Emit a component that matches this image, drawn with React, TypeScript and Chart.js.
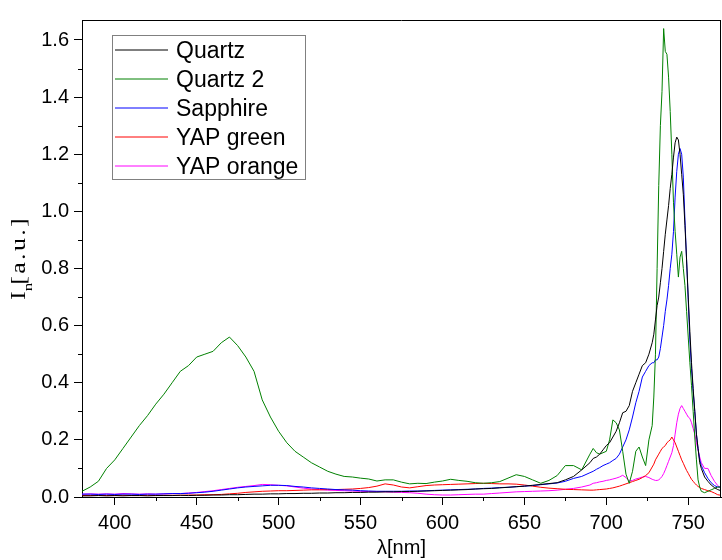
import React, { useEffect, useRef } from 'react';
import { Chart, registerables } from 'chart.js';

Chart.register(...registerables);

const WAVELENGTHS = [
  380, 385, 390, 395, 400, 405, 410, 415, 420, 425,
  430, 435, 440, 445, 450, 455, 460, 465, 470, 475,
  480, 485, 490, 495, 500, 505, 510, 515, 520, 525,
  530, 535, 540, 545, 550, 555, 560, 565, 570, 575,
  580, 585, 590, 595, 600, 605, 610, 615, 620, 625,
  630, 635, 640, 645, 650, 655, 660, 665, 670, 675,
  680, 685, 690,
  692, 694, 696, 698, 700, 702, 704, 706, 708, 710,
  712, 714, 716, 718, 720, 722, 724, 726, 728,
  729, 730, 731, 732, 733, 734, 735, 736, 737, 738,
  739, 740, 741, 742, 743, 744, 745, 746, 747, 748,
  749, 750, 751, 752, 753, 754, 755, 756, 757, 758,
  760, 762, 764, 766, 768, 770,
];

const QUARTZ = [
  0.004, 0.004, 0.005, 0.004, 0.005, 0.004, 0.005, 0.005, 0.004, 0.005,
  0.005, 0.005, 0.006, 0.005, 0.006, 0.006, 0.007, 0.007, 0.008, 0.008,
  0.009, 0.01, 0.01, 0.011, 0.011, 0.012, 0.012, 0.013, 0.013, 0.014,
  0.014, 0.015, 0.015, 0.016, 0.016, 0.017, 0.017, 0.018, 0.018, 0.019,
  0.019, 0.02, 0.021, 0.022, 0.023, 0.024, 0.025, 0.026, 0.028, 0.029,
  0.03, 0.032, 0.034, 0.036, 0.038, 0.041, 0.044, 0.047, 0.05, 0.06,
  0.072, 0.095, 0.12,
  0.135, 0.14, 0.15, 0.165, 0.18, 0.19, 0.21, 0.23, 0.26, 0.295,
  0.3, 0.32, 0.37, 0.4, 0.43, 0.46, 0.47, 0.5, 0.54,
  0.57, 0.62, 0.67, 0.7, 0.75, 0.8, 0.86, 0.92, 0.97, 1.02,
  1.08, 1.13, 1.19, 1.24, 1.26, 1.25, 1.2, 1.13, 1.06, 0.95,
  0.83, 0.7, 0.58, 0.47, 0.38, 0.3, 0.22, 0.17, 0.12, 0.1,
  0.07, 0.055, 0.042, 0.033, 0.026, 0.022,
];

const QUARTZ_2 = [
  0.02, 0.035, 0.055, 0.1, 0.13, 0.17, 0.21, 0.25, 0.285, 0.325,
  0.36, 0.4, 0.44, 0.46, 0.49, 0.5, 0.51, 0.54, 0.56, 0.53,
  0.49, 0.44, 0.34, 0.28, 0.23, 0.19, 0.16, 0.14, 0.12, 0.105,
  0.09, 0.08, 0.072, 0.07, 0.066, 0.063, 0.056, 0.06, 0.06, 0.052,
  0.046, 0.048, 0.047, 0.052, 0.056, 0.062, 0.058, 0.055, 0.05, 0.048,
  0.05, 0.054, 0.066, 0.078, 0.072, 0.06, 0.048, 0.058, 0.075, 0.11,
  0.11, 0.095, 0.15,
  0.17, 0.155, 0.15, 0.155, 0.16, 0.2, 0.27, 0.26, 0.235, 0.16,
  0.08, 0.048, 0.09, 0.16, 0.175, 0.14, 0.11, 0.2, 0.25,
  0.35, 0.5, 0.8, 1.09, 1.3, 1.42, 1.64, 1.56, 1.55, 1.47,
  1.35, 1.2, 1.03, 0.93, 0.85, 0.77, 0.84, 0.86, 0.8, 0.74,
  0.65, 0.56, 0.47, 0.39, 0.3, 0.21, 0.13, 0.06, 0.035, 0.02,
  0.015, 0.02, 0.025, 0.03, 0.035, 0.035,
];

const SAPPHIRE = [
  0.01, 0.01, 0.009, 0.01, 0.009, 0.01, 0.01, 0.009, 0.01, 0.01,
  0.011, 0.012, 0.012, 0.013, 0.015, 0.017, 0.02, 0.024, 0.028, 0.032,
  0.035, 0.037, 0.039, 0.041, 0.041, 0.04, 0.037, 0.035, 0.032, 0.03,
  0.028, 0.026, 0.025, 0.024, 0.022, 0.021, 0.02, 0.02, 0.02, 0.02,
  0.021, 0.021, 0.022, 0.023, 0.024, 0.025, 0.026, 0.027, 0.028, 0.03,
  0.031, 0.033, 0.034, 0.036, 0.038, 0.04, 0.043, 0.046, 0.049, 0.055,
  0.065, 0.072, 0.085,
  0.09, 0.097, 0.103, 0.11, 0.115, 0.12, 0.128, 0.135, 0.15, 0.175,
  0.2, 0.235, 0.28, 0.33, 0.37, 0.42, 0.44, 0.46, 0.47,
  0.47, 0.48, 0.48, 0.49, 0.52, 0.56, 0.6, 0.65, 0.69, 0.74,
  0.8, 0.85, 0.93, 1.05, 1.14, 1.2, 1.22, 1.2, 1.12, 0.97,
  0.83, 0.69, 0.55, 0.45, 0.37, 0.3, 0.22, 0.17, 0.13, 0.11,
  0.085, 0.065, 0.05, 0.04, 0.035, 0.035,
];

const YAP_GREEN = [
  0.005, 0.005, 0.006, 0.005, 0.005, 0.006, 0.005, 0.005, 0.006, 0.005,
  0.006, 0.006, 0.006, 0.007, 0.007, 0.008, 0.008, 0.009, 0.011, 0.013,
  0.016, 0.018, 0.02, 0.021, 0.022, 0.022, 0.023, 0.024, 0.025, 0.025,
  0.026, 0.026, 0.027, 0.028, 0.03, 0.033, 0.038, 0.046, 0.042, 0.035,
  0.032, 0.036, 0.04, 0.042, 0.043, 0.044, 0.045, 0.046, 0.047, 0.048,
  0.047, 0.046, 0.046, 0.045, 0.042, 0.038, 0.034, 0.031, 0.029, 0.027,
  0.026, 0.025, 0.024,
  0.024, 0.025, 0.026, 0.027, 0.028, 0.03, 0.032, 0.035, 0.038, 0.042,
  0.046, 0.05, 0.054, 0.058, 0.062, 0.068, 0.075, 0.085, 0.105,
  0.115, 0.13, 0.14, 0.15, 0.16, 0.17, 0.175, 0.18, 0.19, 0.195,
  0.2, 0.21, 0.2, 0.19, 0.175, 0.16, 0.145, 0.13, 0.118, 0.105,
  0.093, 0.083, 0.072, 0.062, 0.055, 0.048, 0.042, 0.037, 0.033, 0.03,
  0.026, 0.022, 0.019, 0.014, 0.008, 0.006,
];

const YAP_ORANGE = [
  0.01, 0.011, 0.01, 0.011, 0.01, 0.012, 0.011, 0.01, 0.011, 0.01,
  0.011, 0.012, 0.012, 0.014, 0.016, 0.019, 0.022, 0.026, 0.03, 0.034,
  0.037, 0.04, 0.044, 0.043, 0.041, 0.039, 0.035, 0.031, 0.028, 0.026,
  0.024, 0.023, 0.022, 0.021, 0.02, 0.019, 0.019, 0.018, 0.017, 0.016,
  0.015, 0.013, 0.01, 0.008, 0.007, 0.007, 0.008, 0.009, 0.01, 0.01,
  0.012, 0.014, 0.016, 0.018, 0.019, 0.02, 0.021, 0.022, 0.024, 0.027,
  0.03, 0.035, 0.042,
  0.048, 0.05, 0.053, 0.055, 0.058, 0.06, 0.063, 0.066, 0.07, 0.076,
  0.068, 0.056, 0.058, 0.063, 0.066, 0.07, 0.072, 0.068, 0.062,
  0.06, 0.058, 0.058, 0.06, 0.065, 0.072, 0.082, 0.095, 0.11, 0.125,
  0.14, 0.155, 0.18, 0.22, 0.26, 0.29, 0.31, 0.32, 0.31, 0.3,
  0.29, 0.28, 0.275, 0.26, 0.24, 0.22, 0.19, 0.165, 0.14, 0.12,
  0.1, 0.1, 0.075, 0.055, 0.04, 0.03,
];

const SERIES_NAMES = ['Quartz', 'Quartz 2', 'Sapphire', 'YAP green', 'YAP orange'];
const SERIES_VALUES = [QUARTZ, QUARTZ_2, SAPPHIRE, YAP_GREEN, YAP_ORANGE];
const SERIES_COLORS = ['#000000', '#008000', '#0000ff', '#ff0000', '#ff00ff'];

const X_TICKS = [400, 450, 500, 550, 600, 650, 700, 750];
const X_MINOR = [425, 475, 525, 575, 625, 675, 725];
const Y_TICKS = [0, 0.2, 0.4, 0.6, 0.8, 1.0, 1.2, 1.4, 1.6];
const Y_MINOR = [0.1, 0.3, 0.5, 0.7, 0.9, 1.1, 1.3, 1.5];

const SANS = '"Liberation Sans", Arial, sans-serif';
const SERIF = '"Liberation Serif", "Times New Roman", serif';

function spacedText(ctx: CanvasRenderingContext2D, text: string, x: number, y: number, gap: number) {
  let cx = x;
  for (const ch of text) {
    ctx.fillText(ch, cx, y);
    cx += ctx.measureText(ch).width + gap;
  }
  return cx;
}

const decorPlugin = {
  id: 'decor',
  afterDraw(chart: any) {
    const { ctx, chartArea: a, scales } = chart;
    const xs = scales.x;
    const ys = scales.y;
    ctx.save();
    ctx.strokeStyle = '#000';
    ctx.lineWidth = 1;
    ctx.beginPath();
    ctx.moveTo(a.left, Math.round(a.top) + 0.5);
    ctx.lineTo(a.right, Math.round(a.top) + 0.5);
    ctx.moveTo(Math.round(a.right) - 0.5, a.top);
    ctx.lineTo(Math.round(a.right) - 0.5, a.bottom);
    for (const v of Y_MINOR) {
      const y = Math.round(ys.getPixelForValue(v)) + 0.5;
      ctx.moveTo(a.left - 4, y);
      ctx.lineTo(a.left, y);
    }
    for (const v of X_MINOR) {
      const x = Math.round(xs.getPixelForValue(v)) + 0.5;
      ctx.moveTo(x, a.bottom);
      ctx.lineTo(x, a.bottom + 4);
    }
    ctx.stroke();

    // legend
    const bx = 112, by = 35, bw = 194, bh = 145;
    ctx.fillStyle = '#fff';
    ctx.fillRect(bx, by, bw, bh);
    ctx.strokeStyle = '#808080';
    ctx.strokeRect(bx + 0.5, by + 0.5, bw - 1, bh - 1);
    ctx.font = `23px ${SANS}`;
    ctx.textBaseline = 'alphabetic';
    ctx.textAlign = 'left';
    SERIES_NAMES.forEach((name, i) => {
      const ry = 50 + i * 29;
      ctx.strokeStyle = SERIES_COLORS[i];
      ctx.beginPath();
      ctx.moveTo(115, ry);
      ctx.lineTo(168, ry);
      ctx.stroke();
      ctx.fillStyle = '#000';
      ctx.fillText(name, 176, ry + 8);
    });

    // y-axis title: I_n[a.u.]
    ctx.translate(25, 256);
    ctx.rotate(-Math.PI / 2);
    ctx.scale(1.3, 1);
    ctx.fillStyle = '#000';
    ctx.font = `20px ${SERIF}`;
    const start = -44 / 1.3;
    ctx.fillText('I', start, 0);
    const wI = ctx.measureText('I').width;
    ctx.font = `13px ${SERIF}`;
    ctx.fillText('n', start + wI, 7);
    ctx.font = `20px ${SERIF}`;
    spacedText(ctx, '[a.u.]', start + wI + 5, 0, 1.8);
    ctx.restore();
  },
};

export default function App() {
  const ref = useRef<HTMLCanvasElement>(null);

  useEffect(() => {
    const canvas = ref.current;
    if (!canvas) return;
    const datasets = SERIES_NAMES.map((name, s) => ({
      label: name,
      data: WAVELENGTHS.map((x, i) => ({ x, y: SERIES_VALUES[s][i] })),
      borderColor: SERIES_COLORS[s],
      backgroundColor: SERIES_COLORS[s],
      borderWidth: 1,
      pointRadius: 0,
      tension: 0,
      fill: false,
    }));
    const chart = new Chart(canvas, {
      type: 'line',
      data: { datasets },
      options: {
        animation: false,
        responsive: false,
        devicePixelRatio: 1,
        layout: { padding: { top: 20, right: 1, left: 0, bottom: 0 } },
        plugins: { legend: { display: false }, tooltip: { enabled: false } },
        scales: {
          x: {
            type: 'linear',
            min: 380,
            max: 770,
            afterBuildTicks: (axis: any) => {
              axis.ticks = X_TICKS.map((v) => ({ value: v }));
            },
            afterFit: (axis: any) => {
              axis.height = 63;
            },
            ticks: {
              autoSkip: false,
              maxRotation: 0,
              padding: 6,
              color: '#000',
              font: { family: SANS, size: 20 },
              callback: (v: any) => String(v),
            },
            grid: { drawOnChartArea: false, drawTicks: true, tickLength: 8, color: '#000' },
            border: { display: true, color: '#000', width: 1 },
            title: {
              display: true,
              text: 'λ[nm]',
              color: '#000',
              font: { family: SANS, size: 20 },
              padding: { top: 0, bottom: 0 },
            },
          },
          y: {
            type: 'linear',
            min: 0,
            max: 1.67,
            afterBuildTicks: (axis: any) => {
              axis.ticks = Y_TICKS.map((v) => ({ value: v }));
            },
            afterFit: (axis: any) => {
              axis.width = 82;
            },
            ticks: {
              autoSkip: false,
              padding: 5,
              color: '#000',
              font: { family: SANS, size: 20 },
              callback: (v: any) => Number(v).toFixed(1),
            },
            grid: { drawOnChartArea: false, drawTicks: true, tickLength: 8, color: '#000' },
            border: { display: true, color: '#000', width: 1 },
          },
        },
      },
      plugins: [decorPlugin],
    });
    return () => chart.destroy();
  }, []);

  return (
    <div style={{ position: 'absolute', left: 0, top: 0, width: 722, height: 560, background: '#fff' }}>
      <canvas ref={ref} width={722} height={560} style={{ display: 'block', width: 722, height: 560 }} />
    </div>
  );
}
